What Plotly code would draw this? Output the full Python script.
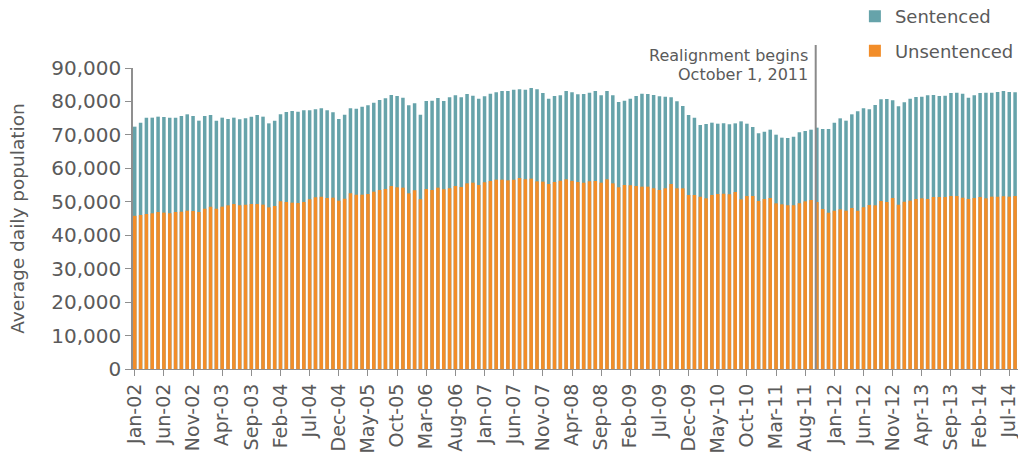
import plotly.graph_objects as go

# Monthly values, Jan-2002 .. Aug-2014 (index 0 = Jan-02)
total = [
    72460, 73650, 75150, 75150, 75450, 75350, 75150, 75150, 75650, 76150, 75650, 74250,  # 2002
    75650, 75950, 74250, 75150, 74750, 75150, 74650, 74950, 75450, 75950, 75450, 73450,  # 2003
    74250, 76150, 76840, 77140, 76940, 77340, 77340, 77640, 77940, 77340, 76740, 74750,  # 2004
    76050, 77940, 77840, 78440, 78840, 79630, 80430, 80930, 81930, 81630, 81130, 78840,  # 2005
    79430, 76050, 80130, 80230, 81030, 80130, 81230, 81830, 81230, 82220, 81730, 80830,  # 2006
    81530, 82320, 82720, 83120, 83120, 83520, 83620, 83520, 84020, 83620, 82520, 80830,  # 2007
    81630, 81830, 83120, 82720, 82120, 82220, 82620, 83120, 81830, 83120, 81830, 79830,  # 2008
    80230, 80830, 81630, 82320, 82220, 81930, 81530, 81430, 81230, 80030, 78640, 75950,  # 2009
    75150, 72960, 73250, 73650, 73350, 73450, 73150, 73450, 74050, 73350, 72360, 70460,  # 2010
    70960, 71560, 70060, 69170, 69070, 69470, 70760, 71160, 71560, 72160, 71760, 71760,  # 2011
    73650, 74950, 74250, 76150, 77040, 77940, 77640, 78940, 80630, 80730, 80330, 78540,  # 2012
    79730, 80830, 81330, 81430, 81830, 81930, 81630, 81730, 82520, 82620, 82320, 81130,  # 2013
    81830, 82520, 82620, 82620, 82820, 83120, 82820, 82720,                              # 2014
]

unsentenced = [
    45800, 46050, 46350, 46550, 46950, 46750, 46550, 46950, 47040, 47340, 47240, 46950,  # 2002
    47940, 48540, 47940, 48540, 48940, 49330, 48940, 49140, 49330, 49330, 49140, 48340,  # 2003
    48740, 50130, 49930, 49730, 49630, 49930, 50730, 51330, 51530, 51130, 51230, 50330,  # 2004
    50930, 52520, 52120, 52120, 52320, 53020, 53520, 53820, 54720, 54320, 54220, 52520,  # 2005
    53420, 50730, 53820, 53520, 54220, 53720, 54020, 54720, 54420, 55510, 55710, 55010,  # 2006
    55810, 56210, 56610, 56610, 56410, 56610, 57110, 56710, 56910, 56110, 56010, 55310,  # 2007
    55910, 56310, 56710, 56260, 55910, 55710, 56110, 56210, 55710, 56710, 55510, 54320,  # 2008
    55010, 54920, 54720, 54520, 54520, 54020, 53520, 54020, 55310, 54020, 54020, 52020,  # 2009
    52020, 51530, 51030, 52020, 52320, 52420, 52220, 52920, 50730, 51730, 51730, 50230,  # 2010
    50830, 51130, 49530, 49240, 48940, 48940, 49530, 50130, 50530, 49930, 47840, 46740,  # 2011
    47340, 47740, 47340, 48140, 47340, 48340, 49040, 48940, 50230, 49930, 51130, 49140,  # 2012
    50030, 50330, 50830, 51030, 50830, 51430, 51430, 51430, 51730, 51730, 51230, 50830,  # 2013
    51130, 51430, 51030, 51530, 51530, 51630, 51530, 51730,                              # 2014
]

tick_labels = [
    "Jan-02", "Jun-02", "Nov-02", "Apr-03", "Sep-03", "Feb-04", "Jul-04", "Dec-04",
    "May-05", "Oct-05", "Mar-06", "Aug-06", "Jan-07", "Jun-07", "Nov-07", "Apr-08",
    "Sep-08", "Feb-09", "Jul-09", "Dec-09", "May-10", "Oct-10", "Mar-11", "Aug-11",
    "Jan-12", "Jun-12", "Nov-12", "Apr-13", "Sep-13", "Feb-14", "Jul-14",
]
tick_positions = [i * 5 for i in range(len(tick_labels))]
realignment_index = 116.8  # October 2011

x = list(range(len(total)))

TEAL = "#66a3aa"
ORANGE = "#f28d29"
TEXT = "#5a5a5a"
AXIS = "#8f8f8f"
FONT = "DejaVu Sans"

fig = go.Figure()
fig.add_trace(go.Bar(x=x, y=total, name="Sentenced", marker=dict(color=TEAL, line=dict(width=0)),
                     width=0.6, legendgroup="s"))
fig.add_trace(go.Bar(x=x, y=unsentenced, name="Unsentenced", marker=dict(color=ORANGE, line=dict(width=0)),
                     width=0.6, legendgroup="u"))

fig.add_shape(type="line", xref="x", yref="paper", x0=realignment_index, x1=realignment_index,
              y0=0, y1=1.076, line=dict(color="#8a8a8a", width=2))
fig.add_annotation(xref="x", yref="paper", x=115.9, y=1.043, text="Realignment begins",
                   showarrow=False, xanchor="right", yanchor="middle",
                   font=dict(family=FONT, size=16, color=TEXT))
fig.add_annotation(xref="x", yref="paper", x=115.9, y=0.977, text="October 1, 2011",
                   showarrow=False, xanchor="right", yanchor="middle",
                   font=dict(family=FONT, size=16, color=TEXT))

fig.update_layout(
    width=1018, height=460,
    margin=dict(l=133, r=0, t=68, b=91, autoexpand=False),
    paper_bgcolor="white", plot_bgcolor="white",
    barmode="overlay",
    font=dict(family=FONT, color=TEXT),
    legend=dict(x=0.8157, y=1.232, xanchor="left", yanchor="top",
                font=dict(family=FONT, size=18, color=TEXT),
                traceorder="grouped", tracegroupgap=8, bgcolor="rgba(0,0,0,0)"),
    xaxis=dict(range=[-0.3, 151.5], tickmode="array", tickvals=tick_positions, ticktext=tick_labels,
               tickangle=-90, ticks="outside", ticklen=6, tickcolor=AXIS, showline=True,
               linecolor=AXIS, linewidth=1, showgrid=False, zeroline=False,
               ticklabeloverflow="allow",
               tickfont=dict(family=FONT, size=19, color=TEXT)),
    yaxis=dict(range=[0, 90000], tickvals=list(range(0, 90001, 10000)), tickformat=",d",
               ticks="outside", ticklen=6, tickcolor=AXIS, showline=True, linecolor=AXIS,
               linewidth=1.5, showgrid=False, zeroline=False,
               tickfont=dict(family=FONT, size=20, color=TEXT),
               title=dict(text="Average daily population", standoff=22,
                          font=dict(family=FONT, size=18.5, color=TEXT))),
)

fig.write_html("out.html", config={"displayModeBar": False},
               post_script="document.body.style.margin='0';document.body.style.overflow='hidden';")
